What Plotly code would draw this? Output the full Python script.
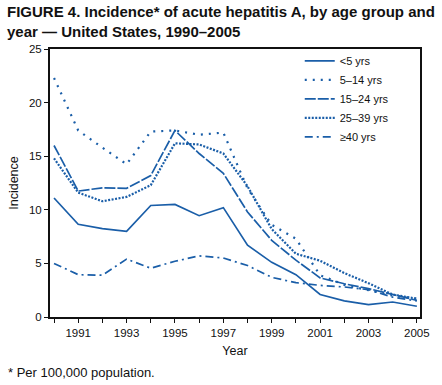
import plotly.graph_objects as go

years = list(range(1990, 2006))
under5 = [11.1, 8.65, 8.25, 8.0, 10.4, 10.5, 9.45, 10.2, 6.7, 5.1, 3.95, 2.1, 1.5, 1.15, 1.4, 1.0]
age5_14 = [22.3, 17.4, 15.8, 14.25, 17.3, 17.4, 17.0, 17.2, 12.0, 8.6, 7.3, 3.9, 3.0, 2.5, 2.0, 1.7]
age15_24 = [16.0, 11.75, 12.05, 12.0, 13.2, 17.4, 15.25, 13.4, 9.8, 7.15, 5.3, 3.65, 3.1, 2.65, 2.1, 1.55]
age25_39 = [14.8, 11.6, 10.8, 11.2, 12.3, 16.2, 16.1, 15.25, 12.2, 8.2, 5.9, 5.25, 4.1, 3.15, 2.1, 1.7]
age40plus = [5.0, 3.95, 3.9, 5.4, 4.55, 5.2, 5.7, 5.5, 4.8, 3.7, 3.2, 2.95, 2.8, 2.55, 1.85, 1.5]

series_names = ["<5 yrs", "5–14 yrs", "15–24 yrs", "25–39 yrs", "≥40 yrs"]
x_tick_vals = years
x_tick_text = [str(y) if y % 2 == 1 else "" for y in years]
y_tick_vals = [0, 5, 10, 15, 20, 25]

BLUE = "#1a5ea8"
styles = [
    dict(dash="solid", width=1.7),
    dict(dash="2px,6px", width=2.2),
    dict(dash="11px,2px", width=1.7),
    dict(dash="2px,1.5px", width=2.2),
    dict(dash="8px,4px,2px,4px", width=1.7),
]

fig = go.Figure()
for name, vals, st in zip(series_names, [under5, age5_14, age15_24, age25_39, age40plus], styles):
    fig.add_trace(go.Scatter(
        x=years, y=vals, mode="lines", name=name,
        line=dict(color=BLUE, width=st["width"], dash=st["dash"]),
    ))

FONT = "Liberation Sans, Arial, Helvetica, sans-serif"
PW, PH = 377, 268

fig.update_layout(
    width=442, height=385,
    margin=dict(l=50, r=15, t=49, b=68),
    paper_bgcolor="white", plot_bgcolor="white",
    font=dict(family=FONT, size=11, color="#111"),
    showlegend=True,
    legend=dict(
        x=0.675, y=1.01, xanchor="left", yanchor="top",
        bgcolor="rgba(0,0,0,0)", borderwidth=0,
        font=dict(family=FONT, size=11, color="#111"),
        itemwidth=30, tracegroupgap=0,
    ),
    xaxis=dict(
        range=[1989.834, 2005.13],
        tickmode="array", tickvals=x_tick_vals, ticktext=x_tick_text,
        ticks="outside", ticklen=4, tickwidth=1, tickcolor="#111",
        showline=True, linewidth=2, linecolor="#111", mirror=True,
        showgrid=False, zeroline=False,
        title=dict(text="Year", font=dict(family=FONT, size=12.5), standoff=8),
        tickfont=dict(family=FONT, size=11.5),
    ),
    yaxis=dict(
        range=[0, 25],
        tickmode="array", tickvals=y_tick_vals,
        ticks="outside", ticklen=4, tickwidth=1, tickcolor="#111",
        showline=True, linewidth=2, linecolor="#111", mirror=True,
        showgrid=False, zeroline=False,
        title=dict(text="Incidence", font=dict(family=FONT, size=12.5), standoff=8),
        tickfont=dict(family=FONT, size=11.5),
    ),
    annotations=[
        dict(text="<b>FIGURE 4. Incidence* of acute hepatitis A, by age group and<br>year — United States, 1990–2005</b>",
             xref="paper", yref="paper", x=-46/PW, y=1 + 48/PH,
             xanchor="left", yanchor="top", align="left", showarrow=False,
             font=dict(family=FONT, size=15, color="#111")),
        dict(text="* Per 100,000 population.", xref="paper", yref="paper",
             x=-45/PW, y=-46/PH, xanchor="left", yanchor="top",
             showarrow=False, font=dict(family=FONT, size=13, color="#111")),
    ],
)

fig.write_html("out.html", config={"displayModeBar": False},
               post_script="document.body.style.margin='0';")
